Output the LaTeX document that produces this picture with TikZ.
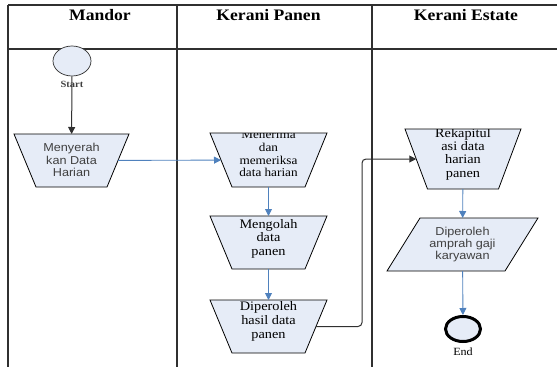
\documentclass[tikz,border=0pt]{standalone}
\usepackage{fontspec}
\setmainfont{Liberation Serif}[FakeStretch=1.1]
\setsansfont{Liberation Sans}[FakeStretch=1.1]
\usetikzlibrary{shapes.geometric,arrows.meta}
\definecolor{boxfill}{HTML}{E6ECF7}
\definecolor{flowblue}{HTML}{4F81BD}
\definecolor{lanegray}{HTML}{303030}
\definecolor{softtext}{HTML}{404040}
% outline of a manual-operation box (wide top, narrow bottom) around node #1
\newcommand\manualoutline[2]{([xshift=-#2]#1.north west) -- ([xshift=#2]#1.north east)
  -- ([xshift=-#2]#1.south east) -- ([xshift=#2]#1.south west) -- cycle}
% outline of a data box leaning right around node #1
\newcommand\dataoutline[2]{([xshift=#2]#1.north west) -- ([xshift=#2]#1.north east)
  -- ([xshift=-#2]#1.south east) -- ([xshift=-#2]#1.south west) -- cycle}
\begin{document}
\begin{tikzpicture}[x=1pt,y=-1pt,
  lane/.style={draw=lanegray,line width=1.1pt},
  head/.style={anchor=base,inner sep=0pt,font=\fontsize{16}{18}\selectfont\bfseries},
  holder/.style={rectangle,inner sep=0pt,outer sep=0pt,minimum height=53pt},
  boxline/.style={draw=black,fill=boxfill,line width=0.8pt},
  terminal/.style={ellipse,fill=boxfill,inner sep=0pt},
  sanstext/.style={align=center,inner sep=0pt,text=softtext,
    font=\sffamily\fontsize{11.5}{12.3}\selectfont},
  seriftext/.style={align=center,inner sep=0pt,
    font=\fontsize{13}{13.6}\selectfont},
  blueflow/.style={draw=flowblue,line width=0.9pt,
    -{Triangle[length=7pt,width=7pt]},color=flowblue},
  darkflow/.style={draw=lanegray,line width=1pt,
    -{Triangle[length=7pt,width=7pt]},color=lanegray}]
\useasboundingbox (0,0) rectangle (557,367);

% swimlane frame
\draw[lane] (8,5) -- (557,5);
\draw[lane] (8,49) -- (557,49);
\draw[lane] (8,5) -- (8,367);
\draw[lane] (177,5) -- (177,367);
\draw[lane] (372,5) -- (372,367);

% lane headers
\node[head] (hmandor) at (100,20.7) {Mandor};
\node[head] (hpanen)  at (268.5,20.7) {Kerani Panen};
\node[head] (hestate) at (466,20.7) {Kerani Estate};

% start
\node[terminal,draw=lanegray,line width=0.7pt,minimum width=38pt,minimum height=30pt] (st) at (72,61) {};
\node[inner sep=0pt,text=softtext,font=\fontsize{9.5}{10}\selectfont\bfseries] (stlabel) at (72,84) {Start};

% Mandor lane
\node[holder,minimum width=93pt] (my) at (71.5,160.5) {};
\filldraw[boxline] \manualoutline{my}{11pt};
\node[sanstext] (mytext) at (71.5,160) {Menyerah\\kan Data\\Harian};

% Kerani Panen lane
\node[holder,minimum width=95pt,minimum height=54pt] (mn) at (268.5,160) {};
\filldraw[boxline] \manualoutline{mn}{11pt};
\begin{scope}
  \clip \manualoutline{mn}{11pt};
  \node[seriftext,font=\fontsize{12}{12.7}\selectfont] (mntext) at (268.5,154) {Menerima\\dan\\memeriksa\\data harian};
\end{scope}

\node[holder,minimum width=95pt] (mg) at (268.5,242.5) {};
\filldraw[boxline] \manualoutline{mg}{11pt};
\node[seriftext] (mgtext) at (268.5,238.5) {Mengolah\\data\\panen};

\node[holder,minimum width=95pt] (dh) at (268.5,326.5) {};
\filldraw[boxline] \manualoutline{dh}{11pt};
\node[seriftext,font=\fontsize{13}{14}\selectfont] (dhtext) at (268.5,321) {Diperoleh\\hasil data\\panen};

% Kerani Estate lane
\node[holder,minimum width=93.5pt,minimum height=60pt] (rk) at (463,159) {};
\filldraw[boxline] \manualoutline{rk}{11.25pt};
\begin{scope}
  \clip \manualoutline{rk}{11.25pt};
  \node[seriftext,font=\fontsize{13}{13.3}\selectfont] (rktext) at (463,154) {Rekapitul\\asi data\\harian\\panen};
\end{scope}

\node[holder,minimum width=118pt] (da) at (462.5,244.5) {};
\filldraw[boxline] \dataoutline{da}{16.5pt};
\node[sanstext] (datext) at (462.5,244.5) {Diperoleh\\amprah gaji\\karyawan};

% end
\node[terminal,draw=black,line width=3pt,minimum width=35pt,minimum height=25pt] (en) at (463,329) {};
\node[inner sep=0pt,font=\fontsize{11}{12}\selectfont] (enlabel) at (463,352) {End};

% connectors
\coordinate (riser) at (362,0);
\draw[darkflow] (st) -- (my);
\draw[blueflow] (my) -- (mn);
\draw[blueflow] (mn) -- (mg);
\draw[blueflow] (mg) -- (dh);
\draw[darkflow,rounded corners=4pt] (dh) -- (dh -| riser) |- (rk);
\draw[blueflow] (rk) -- (da);
\draw[blueflow] (da) -- (en);
\end{tikzpicture}
\end{document}
